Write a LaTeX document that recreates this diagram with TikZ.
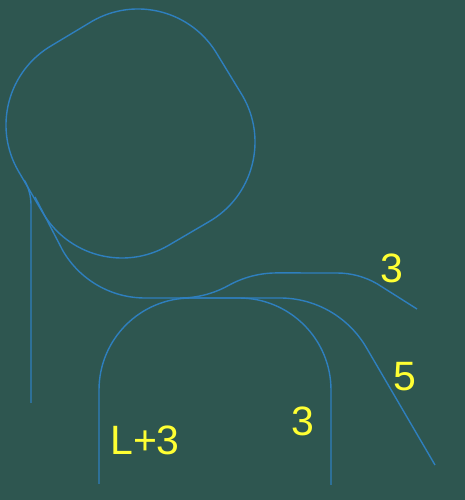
\documentclass[tikz,border=0pt]{standalone}
\usepackage{fontspec}
\setmainfont{Liberation Sans}
\definecolor{bgc}{HTML}{2E5650}
\definecolor{linec}{HTML}{2E7FBE}
\definecolor{txtc}{HTML}{FFFF33}
\tikzset{
  curve/.style={draw=linec,line width=1.4pt,line join=round},
  lab/.style={text=txtc,inner sep=0pt,font=\fontsize{41}{48}\selectfont}
}
\begin{document}
\begin{tikzpicture}[x=1pt,y=1pt]
\fill[bgc] (0,0) rectangle (465,500);
\useasboundingbox (0,0) rectangle (465,500);
% big rounded shape
\draw[curve] ([shift={(120:92)}]138,399) arc[start angle=120,end angle=30,radius=92]
  -- ([shift={(30:92)}]163,358) arc[start angle=30,end angle=-60,radius=92]
  -- ([shift={(-60:92)}]122,334) arc[start angle=-60,end angle=-150,radius=92]
  -- ([shift={(-150:92)}]98,375) arc[start angle=-150,end angle=-240,radius=92]
  -- cycle;
% left vertical line
\coordinate (aend) at (31,97);
\draw[curve] ([shift={(30:50)}]-19,295) arc[start angle=30,end angle=0,radius=50] -- (aend);
% long line to lower right
\coordinate (bstart) at (35,303);
\coordinate (bend) at (435,35);
\draw[curve] (bstart) -- ([shift={(-150:95)}]145,297) arc[start angle=-150,end angle=-90,radius=95]
  -- (280,202) arc[start angle=90,end angle=30,radius=100] -- (bend);
% arch
\coordinate (cleft) at (99,16);
\coordinate (cright) at (331,15);
\draw[curve] (cleft) -- (99,110) arc[start angle=180,end angle=90,radius=92]
  -- (239,202) arc[start angle=90,end angle=0,radius=92] -- (cright);
% upper right S line
\coordinate (dstart) at (180,202);
\coordinate (dend) at (417,191);
\draw[curve] (dstart) arc[start angle=-90,end angle=-61,radius=100]
  arc[start angle=119,end angle=90,radius=100]
  -- (337,227) arc[start angle=90,end angle=60,radius=80] -- (dend);
% labels
\node[lab] (l1) at (392,232) {3};
\node[lab] (l2) at (405,123) {5};
\node[lab] (l3) at (303,79) {3};
\node[lab] (l4) at (145,60) {L+3};
\end{tikzpicture}
\end{document}
